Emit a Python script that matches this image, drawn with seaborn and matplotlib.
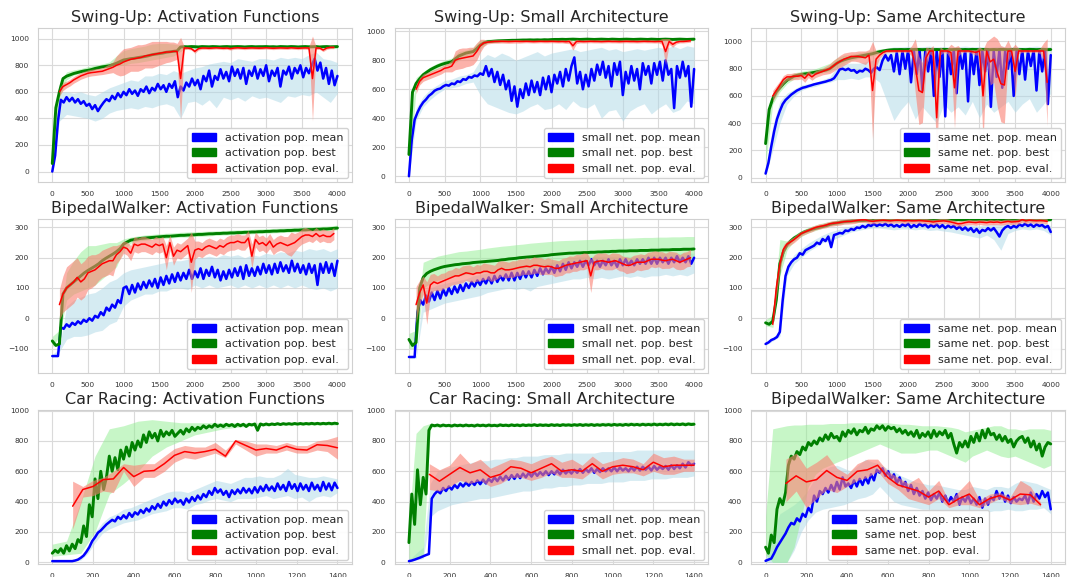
import numpy as np
import matplotlib
matplotlib.use("Agg")
import matplotlib.pyplot as plt
import seaborn as sns
from matplotlib.patches import Patch
from matplotlib.ticker import MultipleLocator

# ---------------- Swing-Up : Activation Functions ----------------
sa_mean = [0, 120, 380, 540, 520, 560, 530, 555, 520, 545,
           510, 530, 495, 510, 470, 500, 455, 490, 520, 545,
           530, 570, 545, 590, 560, 600, 575, 620, 585, 610,
           570, 620, 600, 640, 590, 630, 610, 660, 620, 650,
           600, 660, 630, 680, 560, 640, 610, 670, 640, 700,
           650, 690, 620, 720, 680, 760, 640, 720, 690, 770,
           700, 750, 680, 790, 720, 770, 700, 780, 660, 760,
           720, 790, 700, 770, 720, 800, 680, 760, 720, 780,
           640, 760, 730, 790, 700, 780, 740, 800, 710, 780,
           740, 800, 850, 760, 820, 700, 780, 660, 760, 650,
           720]
sa_mean_lo = [0, 380, 430, 420, 410, 400, 380, 400, 440, 460,
              470, 480, 470, 490, 480, 500, 510, 490, 400, 520,
              530, 500, 540, 480, 560, 540, 560, 530, 570, 550,
              560, 540, 520, 570, 560, 580, 570, 600, 560, 520,
              590]
sa_mean_hi = [40, 600, 600, 590, 600, 580, 570, 600, 630, 650,
              670, 690, 680, 720, 720, 740, 730, 760, 740, 760,
              780, 790, 810, 820, 830, 820, 850, 840, 830, 850,
              850, 840, 860, 850, 860, 850, 880, 900, 850, 840,
              820]
sa_best = [60, 480, 600, 700, 718, 728, 738, 745, 752, 758,
           762, 768, 776, 782, 788, 792, 796, 805, 815, 828,
           840, 845, 850, 853, 858, 862, 866, 872, 880, 884,
           888, 892, 898, 902, 905, 908, 938, 940, 939, 941,
           940, 938, 941, 940, 939, 941, 940, 938, 940, 941,
           939, 940, 941, 940, 938, 940, 941, 939, 940, 940,
           941, 939, 940, 938, 941, 940, 939, 941, 940, 938,
           940, 941, 939, 940, 941, 938, 940, 941, 939, 940,
           941]
sa_best_lo = [0, 560, 690, 725, 740, 750, 765, 775, 785, 795,
              800, 815, 820, 830, 840, 850, 860, 870, 905, 928,
              928, 929, 928, 927, 928, 929, 928, 927, 928, 929,
              928, 927, 928, 929, 928, 927, 928, 929, 928, 927,
              928]
sa_best_hi = [250, 660, 750, 765, 775, 790, 800, 810, 825, 870,
              910, 925, 935, 945, 960, 965, 965, 960, 952, 952,
              953, 952, 951, 952, 953, 952, 951, 952, 953, 952,
              951, 952, 953, 952, 951, 952, 953, 952, 951, 952,
              953]
sa_eval = [600, 640, 655, 670, 690, 705, 720, 730, 740, 745,
           748, 752, 755, 765, 775, 785, 800, 810, 825, 835,
           845, 850, 855, 860, 870, 875, 880, 885, 890, 895,
           900, 900, 905, 905, 700, 930, 930, 925, 905, 925,
           930, 930, 928, 930, 932, 930, 928, 930, 925, 930,
           932, 930, 928, 930, 931, 930, 929, 930, 932, 930,
           928, 930, 931, 930, 929, 932, 930, 928, 930, 931,
           930, 700, 930, 930, 915, 930, 935, 935]
sa_eval_sd = [30, 30, 25, 25, 25, 25, 25, 25, 25, 25,
              25, 25, 25, 30, 35, 40, 70, 90, 100, 95,
              90, 95, 100, 95, 90, 95, 100, 95, 90, 85,
              80, 75, 70, 60, 310, 12, 10, 10, 15, 10,
              10, 10, 10, 10, 10, 10, 10, 10, 10, 10,
              10, 10, 10, 10, 10, 10, 10, 10, 10, 10,
              10, 10, 10, 10, 10, 10, 10, 10, 10, 10,
              12, 320, 12, 10, 12, 10, 10, 10]

# ---------------- Swing-Up : Small Architecture ----------------
ss_mean = [0, 250, 390, 440, 480, 510, 530, 555, 570, 590,
           600, 605, 620, 630, 625, 640, 635, 655, 650, 670,
           665, 685, 680, 695, 690, 710, 700, 760, 690, 740,
           650, 720, 630, 700, 600, 660, 520, 620, 480, 600,
           540, 640, 560, 660, 580, 650, 560, 680, 600, 690,
           580, 700, 640, 720, 620, 740, 660, 760, 820, 640,
           720, 600, 700, 620, 740, 660, 770, 700, 790, 680,
           760, 620, 780, 700, 790, 560, 720, 640, 760, 660,
           740, 600, 780, 700, 760, 640, 780, 700, 790, 660,
           800, 700, 740, 470, 760, 680, 790, 690, 760, 480,
           740]
ss_mean_lo = [0, 380, 480, 530, 570, 600, 610, 620, 640, 650,
              560, 500, 480, 460, 440, 430, 450, 480, 500, 460,
              470, 500, 460, 520, 480, 470, 500, 400, 450, 460,
              380, 450, 480, 500, 430, 470, 500, 440, 460, 520,
              500]
ss_mean_hi = [20, 470, 550, 600, 630, 660, 670, 690, 700, 720,
              800, 840, 820, 850, 830, 800, 820, 840, 860, 830,
              850, 860, 870, 880, 860, 870, 880, 890, 870, 880,
              860, 870, 880, 870, 880, 890, 880, 900, 880, 900,
              890]
ss_best = [150, 580, 640, 672, 700, 718, 735, 748, 760, 770,
           778, 784, 790, 810, 830, 840, 850, 855, 860, 880,
           905, 920, 928, 930, 932, 934, 935, 936, 937, 938,
           938, 939, 940, 940, 941, 940, 941, 940, 942, 941,
           943, 944, 944, 945, 944, 945, 946, 945, 944, 945,
           946, 945, 944, 945, 946, 945, 944, 946, 945, 944,
           945, 946, 945, 944, 945, 946, 945, 944, 946, 945,
           944, 945, 946, 945, 944, 945, 946, 945, 944, 945,
           946]
ss_best_lo = [0, 600, 680, 715, 740, 760, 770, 800, 830, 845,
              880, 920, 925, 928, 930, 932, 932, 933, 933, 934,
              935, 935, 936, 935, 934, 935, 936, 935, 934, 935,
              936, 935, 934, 935, 936, 935, 934, 935, 936, 935,
              935]
ss_best_hi = [300, 680, 720, 755, 780, 800, 815, 860, 870, 890,
              940, 945, 948, 948, 948, 950, 950, 950, 952, 952,
              953, 954, 953, 954, 955, 954, 953, 954, 955, 954,
              953, 954, 955, 954, 953, 954, 955, 954, 953, 954,
              955]
ss_eval = [600, 655, 680, 690, 700, 710, 720, 730, 745, 750,
           760, 800, 810, 815, 820, 825, 830, 860, 900, 920,
           925, 928, 930, 930, 931, 930, 929, 930, 931, 930,
           930, 931, 930, 929, 930, 931, 930, 930, 931, 930,
           929, 930, 928, 930, 900, 930, 930, 929, 930, 931,
           930, 930, 929, 930, 931, 930, 930, 929, 930, 931,
           930, 930, 929, 930, 931, 930, 930, 929, 930, 930,
           860, 930, 910, 925, 930, 930, 932, 935]
ss_eval_sd = [30, 25, 25, 25, 25, 25, 25, 25, 25, 30,
              40, 65, 70, 70, 65, 65, 60, 60, 45, 25,
              12, 12, 12, 12, 12, 12, 12, 12, 12, 12,
              10, 10, 10, 10, 10, 10, 10, 10, 10, 10,
              10, 10, 12, 15, 30, 15, 10, 10, 10, 10,
              10, 10, 10, 10, 10, 10, 10, 10, 10, 10,
              10, 10, 10, 10, 10, 10, 10, 10, 10, 20,
              90, 20, 20, 12, 10, 10, 10, 10]

# ---------------- Swing-Up : Same Architecture ----------------
sm_mean = [30, 110, 230, 340, 430, 490, 540, 570, 590, 610,
           625, 640, 650, 660, 665, 672, 678, 685, 690, 695,
           700, 705, 712, 718, 730, 760, 795, 800, 790, 800,
           785, 790, 770, 785, 780, 800, 790, 770, 800, 810,
           790, 860, 900, 860, 900, 780, 920, 760, 930, 800,
           940, 700, 930, 760, 940, 640, 930, 780, 940, 600,
           930, 740, 940, 450, 930, 760, 940, 620, 930, 800,
           940, 560, 930, 760, 940, 680, 930, 780, 940, 520,
           930, 740, 940, 660, 930, 800, 940, 600, 930, 760,
           940, 720, 930, 820, 940, 640, 930, 780, 940, 540,
           900]
sm_mean_lo = [10, 200, 400, 540, 600, 640, 660, 670, 690, 700,
              720, 720, 730, 720, 740, 740, 700, 560, 420, 500,
              560, 430, 520, 460, 400, 540, 480, 520, 460, 560,
              440, 540, 480, 520, 560, 480, 540, 580, 480, 540,
              620]
sm_mean_hi = [50, 380, 560, 620, 650, 680, 690, 700, 720, 740,
              810, 840, 840, 840, 850, 860, 880, 950, 960, 960,
              965, 958, 962, 966, 960, 964, 958, 962, 966, 960,
              964, 958, 962, 966, 960, 964, 958, 962, 966, 960,
              962]
sm_best = [250, 500, 580, 630, 660, 690, 715, 730, 745, 752,
           758, 762, 765, 770, 775, 780, 785, 790, 800, 820,
           840, 855, 865, 873, 880, 885, 890, 895, 900, 905,
           910, 918, 925, 930, 935, 938, 940, 940, 941, 940,
           941, 940, 942, 941, 940, 941, 942, 940, 941, 940,
           942, 941, 940, 941, 942, 940, 941, 940, 942, 941,
           940, 941, 942, 940, 941, 940, 942, 941, 940, 941,
           942, 940, 941, 940, 942, 941, 940, 941, 942, 940,
           941]
sm_best_lo = [100, 540, 630, 690, 725, 740, 750, 760, 770, 780,
              810, 840, 860, 875, 885, 895, 910, 925, 930, 930,
              931, 930, 929, 930, 931, 930, 929, 930, 931, 930,
              929, 930, 931, 930, 929, 930, 931, 930, 929, 930,
              931]
sm_best_hi = [420, 620, 700, 745, 770, 780, 790, 800, 820, 840,
              880, 900, 905, 915, 925, 935, 945, 950, 952, 952,
              953, 952, 951, 952, 953, 952, 951, 952, 953, 952,
              951, 952, 953, 952, 951, 952, 953, 952, 951, 952,
              953]
sm_eval = [600, 640, 680, 720, 740, 740, 745, 745, 750, 730,
           760, 740, 760, 770, 780, 790, 800, 820, 840, 855,
           870, 880, 890, 890, 890, 885, 880, 900, 640, 870,
           900, 920, 930, 930, 930, 930, 930, 930, 930, 930,
           820, 640, 625, 880, 930, 930, 440, 930, 930, 930,
           920, 660, 930, 930, 930, 930, 925, 920, 930, 600,
           930, 850, 870, 770, 690, 680, 930, 930, 780, 930,
           930, 930, 930, 930, 930, 930, 930, 700]
sm_eval_sd = [40, 35, 30, 30, 25, 25, 25, 25, 25, 30,
              25, 25, 25, 25, 25, 30, 35, 40, 40, 45,
              45, 40, 35, 35, 40, 45, 50, 40, 360, 60,
              20, 15, 12, 10, 10, 10, 10, 10, 10, 40,
              200, 250, 220, 80, 20, 40, 330, 30, 10, 20,
              60, 300, 40, 10, 10, 10, 15, 20, 30, 340,
              70, 170, 170, 250, 280, 280, 80, 20, 200, 20,
              10, 10, 10, 10, 10, 20, 60, 320]

# ---------------- BipedalWalker : Activation Functions ----------------
ba_mean = [-125, -125, -125, -30, -35, -20, -28, -15, -22, -10,
           -18, -5, -12, 0, -8, 8, 2, 20, 10, 35,
           25, 45, 35, 60, 50, 100, 105, 80, 110, 85,
           115, 95, 120, 100, 125, 105, 130, 100, 135, 110,
           140, 115, 145, 120, 150, 125, 150, 130, 160, 130,
           155, 135, 165, 130, 160, 140, 170, 135, 160, 125,
           155, 130, 160, 135, 165, 140, 170, 130, 175, 140,
           165, 140, 170, 145, 180, 150, 175, 145, 180, 150,
           185, 155, 175, 150, 190, 155, 180, 150, 175, 145,
           180, 150, 175, 110, 180, 150, 185, 150, 180, 140,
           190]
ba_mean_lo = [-130, -110, -70, -60, -60, -55, -45, -40, -20, -10,
              40, 60, 70, 80, 80, 90, 90, 100, 100, 95,
              110, 100, 110, 100, 105, 110, 100, 110, 100, 110,
              100, 110, 100, 110, 100, 110, 100, 95, 100, 90,
              100]
ba_mean_hi = [-120, -100, 40, 60, 70, 80, 85, 100, 120, 130,
              150, 160, 165, 170, 175, 180, 185, 190, 190, 195,
              200, 200, 205, 200, 210, 205, 210, 200, 210, 205,
              215, 210, 220, 215, 225, 220, 230, 225, 230, 220,
              230]
ba_best = [-75, -90, -85, 80, 100, 110, 120, 130, 140, 150,
           158, 165, 172, 180, 190, 198, 205, 212, 220, 230,
           245, 252, 258, 260, 262, 264, 265, 266, 267, 268,
           269, 270, 271, 271, 272, 273, 274, 274, 275, 275,
           276, 277, 277, 278, 279, 279, 280, 280, 281, 281,
           282, 282, 283, 283, 284, 284, 285, 285, 286, 286,
           287, 287, 288, 288, 289, 289, 290, 290, 291, 291,
           292, 292, 293, 293, 294, 294, 295, 295, 296, 297,
           298]
ba_best_lo = [-95, -60, 60, 80, 90, 100, 110, 130, 150, 170,
              225, 248, 255, 258, 260, 262, 264, 266, 268, 268,
              270, 271, 272, 274, 275, 276, 277, 278, 279, 280,
              281, 282, 283, 284, 285, 286, 287, 288, 289, 290,
              292]
ba_best_hi = [-60, -40, 150, 190, 220, 240, 240, 245, 250, 250,
              262, 268, 272, 275, 277, 279, 281, 282, 284, 285,
              286, 287, 288, 289, 290, 291, 292, 293, 294, 295,
              296, 297, 298, 299, 300, 301, 302, 303, 304, 305,
              308]
ba_eval = [45, 80, 100, 110, 120, 135, 120, 130, 150, 155,
           160, 170, 180, 185, 190, 190, 210, 220, 235, 230,
           215, 245, 240, 245, 245, 240, 235, 245, 240, 245,
           200, 250, 205, 225, 220, 230, 240, 185, 225, 230,
           225, 235, 240, 235, 230, 240, 235, 245, 250, 250,
           255, 250, 250, 265, 205, 260, 245, 250, 240, 255,
           235, 245, 250, 245, 240, 245, 250, 260, 270, 275,
           275, 270, 280, 270, 275, 270, 270, 280]
ba_eval_sd = [50, 60, 70, 70, 70, 65, 60, 60, 55, 55,
              50, 45, 45, 45, 45, 50, 30, 25, 20, 22,
              25, 25, 25, 25, 25, 25, 25, 25, 25, 25,
              40, 25, 30, 25, 25, 25, 25, 100, 30, 25,
              25, 25, 25, 25, 25, 25, 25, 25, 25, 25,
              25, 25, 25, 25, 40, 25, 25, 25, 25, 25,
              25, 25, 25, 25, 30, 40, 30, 25, 25, 25,
              20, 20, 20, 20, 20, 20, 20, 20]

# ---------------- BipedalWalker : Small Architecture ----------------
bs_mean = [-128, -128, -128, 20, 60, 45, 75, 55, 85, 60,
           90, 65, 95, 75, 100, 80, 105, 85, 110, 90,
           115, 100, 120, 105, 125, 110, 130, 115, 135, 115,
           140, 120, 140, 125, 145, 125, 150, 125, 150, 130,
           155, 135, 155, 135, 160, 140, 165, 145, 165, 150,
           170, 150, 175, 155, 180, 160, 185, 165, 185, 170,
           190, 170, 190, 175, 195, 175, 190, 170, 190, 175,
           195, 175, 190, 170, 195, 175, 195, 175, 190, 175,
           195, 180, 195, 180, 200, 180, 200, 180, 200, 185,
           200, 180, 200, 185, 205, 185, 200, 185, 205, 180,
           200]
bs_mean_lo = [-132, -132, 20, 30, 40, 50, 55, 60, 65, 70,
              75, 85, 90, 95, 100, 95, 100, 90, 105, 110,
              115, 120, 125, 130, 130, 135, 130, 135, 130, 135,
              140, 135, 140, 135, 140, 140, 145, 140, 145, 140,
              150]
bs_mean_hi = [-124, -124, 90, 100, 110, 115, 120, 125, 130, 140,
              145, 150, 155, 160, 165, 165, 170, 170, 175, 180,
              185, 190, 195, 200, 205, 205, 205, 205, 205, 205,
              205, 205, 205, 210, 210, 210, 215, 215, 215, 215,
              215]
bs_best = [-70, -90, -80, 100, 135, 148, 155, 160, 164, 168,
           171, 173, 175, 177, 178, 180, 181, 182, 184, 185,
           186, 187, 188, 189, 190, 191, 193, 194, 196, 197,
           198, 200, 201, 202, 203, 204, 205, 206, 207, 208,
           210, 211, 212, 213, 214, 215, 215, 216, 216, 217,
           217, 218, 218, 219, 219, 220, 220, 221, 221, 222,
           222, 222, 223, 223, 223, 224, 224, 224, 225, 225,
           225, 226, 226, 226, 227, 227, 227, 228, 228, 228,
           229]
bs_best_lo = [-100, -100, 100, 115, 125, 132, 138, 142, 145, 148,
              150, 152, 155, 158, 160, 163, 166, 168, 170, 172,
              175, 177, 178, 180, 181, 182, 183, 184, 185, 186,
              186, 187, 188, 189, 189, 190, 190, 191, 191, 192,
              192]
bs_best_hi = [-50, -40, 185, 195, 205, 210, 215, 220, 222, 225,
              228, 232, 235, 238, 240, 243, 245, 248, 250, 252,
              254, 256, 257, 258, 259, 260, 261, 262, 263, 264,
              264, 265, 266, 267, 267, 268, 268, 269, 269, 270,
              270]
bs_eval = [45, 85, 110, 50, 110, 120, 115, 120, 125, 130,
           135, 140, 140, 145, 150, 148, 145, 150, 150, 155,
           155, 150, 150, 160, 165, 160, 160, 162, 165, 168,
           170, 172, 170, 175, 175, 172, 170, 172, 170, 165,
           165, 170, 175, 178, 180, 183, 185, 188, 190, 140,
           185, 188, 190, 188, 185, 188, 190, 185, 180, 175,
           175, 180, 185, 185, 185, 190, 195, 195, 195, 192,
           190, 193, 195, 190, 185, 190, 195, 200]
bs_eval_sd = [60, 40, 30, 70, 35, 28, 25, 28, 25, 28,
              25, 28, 25, 28, 25, 28, 25, 28, 25, 28,
              25, 28, 25, 28, 25, 28, 25, 28, 25, 28,
              25, 28, 25, 28, 25, 28, 25, 28, 25, 28,
              25, 28, 25, 28, 25, 28, 25, 28, 25, 55,
              25, 28, 25, 28, 25, 28, 25, 28, 25, 28,
              25, 28, 25, 28, 25, 28, 25, 28, 25, 28,
              25, 28, 25, 28, 25, 28, 25, 28]

# ---------------- BipedalWalker : Same Architecture (4000 gen) ----------------
bm_mean = [-85, -80, -72, -68, -62, -45, 60, 140, 170, 185,
           195, 200, 215, 210, 225, 230, 235, 240, 250, 245,
           262, 255, 270, 235, 275, 278, 282, 280, 290, 288,
           295, 292, 300, 298, 305, 300, 308, 305, 312, 305,
           310, 306, 312, 305, 310, 303, 308, 302, 310, 305,
           312, 300, 308, 302, 312, 305, 310, 300, 308, 302,
           310, 300, 308, 298, 306, 300, 305, 295, 303, 292,
           300, 290, 298, 285, 295, 282, 292, 288, 298, 290,
           298, 285, 270, 290, 300, 305, 298, 305, 300, 310,
           305, 312, 305, 310, 302, 310, 305, 308, 300, 305,
           285]
bm_mean_lo = [-90, -75, -60, 140, 180, 200, 220, 235, 250, 255,
              265, 275, 285, 290, 295, 298, 298, 295, 292, 295,
              295, 292, 295, 290, 292, 288, 285, 280, 275, 270,
              265, 275, 260, 225, 280, 290, 295, 292, 295, 290,
              275]
bm_mean_hi = [-80, -65, -40, 175, 210, 230, 248, 262, 275, 285,
              292, 300, 305, 312, 316, 320, 320, 320, 318, 318,
              320, 318, 320, 318, 318, 316, 315, 312, 310, 308,
              305, 310, 312, 310, 315, 318, 320, 320, 318, 316,
              305]
bm_best = [-15, -20, -10, 60, 180, 220, 242, 255, 265, 272,
           280, 286, 290, 294, 297, 300, 303, 306, 310, 313,
           315, 317, 319, 320, 321, 322, 322, 323, 323, 324,
           324, 324, 325, 325, 325, 325, 326, 325, 326, 325,
           326, 325, 326, 325, 326, 325, 326, 325, 326, 325,
           326, 325, 326, 325, 326, 325, 326, 325, 326, 325,
           326, 325, 326, 325, 326, 325, 326, 325, 326, 325,
           326, 325, 326, 325, 326, 325, 326, 325, 326, 325,
           326]
bm_best_lo = [-25, -30, 140, 225, 255, 270, 282, 290, 298, 305,
              308, 312, 315, 317, 318, 319, 320, 320, 320, 320,
              321, 320, 321, 320, 321, 320, 321, 320, 321, 320,
              321, 320, 321, 320, 321, 320, 321, 320, 321, 320,
              321]
bm_best_hi = [-5, 10, 260, 255, 275, 290, 300, 308, 315, 320,
              324, 328, 330, 332, 334, 335, 335, 335, 335, 335,
              336, 335, 336, 335, 336, 335, 336, 335, 336, 335,
              336, 335, 336, 335, 336, 335, 336, 335, 336, 335,
              336]
bm_eval = [-20, 100, 180, 228, 245, 252, 260, 270, 280, 285,
           290, 295, 300, 303, 305, 308, 312, 314, 315, 317,
           319, 320, 320, 322, 324, 325, 325, 322, 320, 322,
           323, 324, 323, 322, 323, 324, 323, 322, 323, 322,
           322, 323, 322, 321, 320, 318, 320, 321, 322, 320,
           318, 315, 312, 313, 316, 318, 317, 316, 318, 317,
           316, 318, 317, 318, 316, 318, 320, 318, 319, 320,
           326, 322, 324, 323, 322, 323, 322, 320]
bm_eval_sd = [12, 30, 25, 15, 10, 10, 10, 10, 8, 8,
              8, 9, 8, 9, 8, 9, 8, 9, 8, 9,
              8, 9, 8, 9, 8, 9, 8, 9, 8, 9,
              8, 9, 8, 9, 8, 9, 8, 9, 8, 9,
              8, 9, 8, 9, 8, 9, 8, 9, 8, 9,
              8, 9, 8, 9, 8, 9, 8, 9, 8, 9,
              8, 9, 8, 9, 8, 9, 8, 9, 8, 9,
              8, 9, 8, 9, 8, 9, 8, 9]

# ---------------- Car Racing : Activation Functions ----------------
ca_mean = [8, 8, 8, 8, 8, 8, 8, 8, 12, 18,
           30, 45, 70, 100, 140, 165, 195, 210, 230, 250,
           265, 280, 270, 300, 285, 310, 290, 325, 300, 330,
           315, 345, 325, 355, 335, 370, 350, 385, 360, 400,
           375, 410, 385, 420, 395, 410, 380, 420, 395, 430,
           405, 440, 415, 450, 430, 470, 445, 490, 460, 480,
           445, 470, 430, 475, 450, 480, 455, 490, 460, 485,
           455, 495, 460, 500, 470, 510, 475, 500, 470, 520,
           480, 510, 470, 530, 485, 515, 470, 520, 480, 510,
           470, 525, 480, 510, 470, 530, 480, 520, 475, 525,
           490]
ca_mean_lo = [5, 5, 5, 5, 15, 60, 130, 190, 220, 240,
              260, 270, 280, 300, 320, 330, 340, 360, 360, 350,
              380, 390, 410, 420, 410, 400, 420, 420, 420, 430,
              440, 420, 430, 440, 420, 430, 400, 430, 440, 430,
              460]
ca_mean_hi = [12, 12, 12, 14, 40, 110, 200, 260, 300, 320,
              350, 360, 380, 400, 420, 440, 460, 470, 470, 460,
              480, 500, 520, 540, 530, 520, 540, 560, 560, 570,
              560, 560, 580, 620, 580, 570, 560, 560, 570, 560,
              550]
ca_best = [60, 80, 65, 90, 60, 110, 75, 120, 90, 150,
           130, 240, 170, 380, 300, 550, 420, 600, 480, 560,
           700, 600, 690, 610, 740, 680, 760, 700, 790, 740,
           800, 760, 840, 790, 860, 820, 850, 800, 870, 830,
           860, 840, 870, 830, 850, 870, 845, 880, 860, 890,
           870, 890, 880, 900, 885, 900, 890, 910, 895, 905,
           895, 910, 900, 908, 895, 910, 900, 910, 895, 910,
           905, 912, 870, 912, 905, 912, 906, 912, 908, 914,
           908, 914, 910, 914, 910, 915, 911, 915, 911, 915,
           912, 916, 912, 916, 912, 916, 913, 917, 913, 917,
           914]
ca_best_lo = [40, 50, 60, 200, 450, 520, 600, 700, 760, 800,
              840, 860, 880, 890, 900, 900, 905, 905, 905, 905,
              905]
ca_best_hi = [120, 140, 400, 700, 880, 900, 930, 940, 930, 920,
              920, 920, 920, 920, 920, 920, 922, 922, 924, 924,
              924]
ca_eval = [370, 480, 500, 545, 550, 625, 565, 600, 605, 650,
           705, 730, 720, 730, 745, 700, 800, 770, 740, 750,
           740, 765, 745, 740, 775, 770, 755]
ca_eval_lo = [220, 430, 440, 470, 460, 600, 500, 560, 560, 600,
              660, 690, 680, 700, 720, 690, 780, 740, 700, 720,
              720, 740, 720, 720, 740, 730, 680]
ca_eval_hi = [535, 500, 540, 560, 600, 650, 640, 650, 650, 700,
              750, 770, 760, 760, 790, 740, 810, 800, 780, 780,
              770, 790, 770, 770, 800, 810, 830]

# ---------------- Car Racing : Small Architecture ----------------
cs_mean = [8, 12, 18, 25, 32, 40, 48, 55, 420, 450,
           470, 455, 490, 470, 500, 480, 510, 490, 520, 500,
           525, 505, 530, 510, 540, 515, 545, 520, 550, 530,
           560, 535, 565, 540, 570, 545, 575, 550, 580, 555,
           585, 560, 590, 565, 595, 570, 595, 575, 600, 575,
           600, 580, 605, 580, 610, 585, 605, 585, 610, 590,
           615, 590, 615, 595, 620, 590, 615, 595, 620, 600,
           620, 600, 625, 600, 625, 605, 620, 600, 625, 605,
           630, 605, 630, 610, 630, 605, 635, 610, 630, 615,
           635, 610, 640, 615, 640, 620, 650, 625, 660, 640,
           650]
cs_mean_lo = [5, 15, 25, 300, 340, 360, 380, 390, 400, 410,
              420, 420, 430, 440, 450, 460, 470, 470, 480, 490,
              490, 500, 500, 510, 510, 520, 520, 520, 530, 530,
              530, 540, 540, 540, 550, 550, 550, 560, 560, 560,
              570]
cs_mean_hi = [15, 60, 100, 520, 600, 620, 630, 640, 650, 660,
              670, 670, 680, 680, 690, 690, 700, 700, 700, 710,
              710, 710, 720, 720, 720, 720, 720, 730, 730, 730,
              730, 730, 740, 740, 740, 740, 740, 740, 740, 740,
              740]
cs_best = [130, 450, 250, 610, 380, 560, 450, 870, 905, 900,
           905, 898, 905, 900, 903, 898, 905, 900, 904, 899,
           905, 900, 903, 898, 905, 900, 904, 899, 905, 900,
           903, 899, 906, 901, 904, 900, 906, 901, 905, 900,
           906, 901, 905, 902, 907, 901, 906, 902, 905, 901,
           907, 902, 906, 901, 907, 903, 906, 902, 907, 903,
           908, 902, 907, 903, 908, 902, 907, 903, 908, 904,
           908, 903, 909, 904, 908, 903, 909, 904, 910, 905,
           909, 904, 910, 905, 909, 905, 911, 905, 910, 906,
           911, 906, 912, 906, 911, 907, 912, 906, 912, 908,
           910]
cs_best_lo = [20, 30, 50, 890, 892, 893, 892, 894, 893, 894,
              895, 894, 895, 896, 895, 896, 897, 896, 897, 898,
              897, 898, 899, 898, 899, 900, 899, 900, 901, 900,
              901, 902, 901, 902, 903, 902, 903, 904, 903, 904,
              905]
cs_best_hi = [250, 850, 900, 915, 915, 916, 915, 917, 916, 917,
              918, 917, 918, 919, 918, 919, 920, 919, 920, 921,
              920, 921, 922, 921, 922, 923, 922, 923, 924, 923,
              924, 925, 924, 925, 926, 925, 926, 927, 926, 927,
              928]
cs_eval = [580, 535, 580, 625, 590, 610, 560, 580, 630, 620,
           590, 620, 650, 600, 610, 600, 650, 600, 630, 640,
           630, 610, 660, 630, 640, 640, 640]
cs_eval_lo = [480, 470, 500, 540, 520, 540, 500, 520, 560, 560,
              540, 560, 590, 560, 560, 550, 600, 550, 580, 590,
              590, 570, 600, 580, 580, 600, 600]
cs_eval_hi = [650, 610, 640, 720, 650, 680, 620, 650, 680, 670,
              650, 680, 700, 660, 680, 640, 700, 650, 670, 690,
              680, 650, 720, 690, 700, 680, 680]

# ---------------- BipedalWalker : Same Architecture (1400 gen) ----------------
bw_mean = [10, 18, 25, 60, 100, 130, 160, 190, 230, 260,
           250, 290, 270, 320, 300, 360, 330, 440, 400, 470,
           450, 490, 460, 510, 470, 530, 480, 560, 500, 520,
           490, 540, 500, 550, 510, 560, 520, 580, 540, 610,
           590, 620, 570, 600, 550, 580, 520, 560, 500, 530,
           470, 510, 450, 490, 440, 470, 420, 460, 410, 450,
           420, 460, 400, 440, 390, 430, 400, 450, 380, 430,
           400, 440, 390, 420, 380, 430, 360, 420, 380, 430,
           410, 470, 420, 460, 400, 440, 390, 430, 400, 420,
           410, 440, 390, 460, 400, 450, 420, 470, 430, 460,
           350]
bw_mean_lo = [0, 0, 0, 0, 80, 200, 280, 330, 350, 360,
              370, 380, 400, 420, 430, 450, 500, 450, 400, 380,
              370, 360, 350, 350, 340, 340, 340, 330, 340, 330,
              320, 330, 340, 340, 350, 340, 340, 350, 350, 360,
              320]
bw_mean_hi = [30, 200, 320, 350, 380, 420, 480, 560, 600, 630,
              640, 620, 600, 640, 680, 660, 650, 620, 600, 570,
              550, 530, 520, 510, 510, 500, 490, 480, 480, 500,
              490, 480, 500, 500, 490, 520, 540, 530, 520, 500,
              480]
bw_best = [100, 60, 180, 130, 350, 420, 380, 460, 640, 700,
           680, 730, 710, 760, 740, 790, 770, 800, 780, 820,
           800, 840, 810, 850, 820, 830, 800, 860, 830, 870,
           850, 880, 840, 870, 860, 890, 850, 880, 870, 900,
           880, 900, 870, 895, 880, 890, 860, 880, 850, 870,
           840, 860, 830, 870, 820, 850, 830, 860, 820, 870,
           830, 860, 840, 870, 820, 850, 780, 720, 790, 760,
           800, 760, 830, 790, 850, 800, 870, 820, 880, 840,
           850, 810, 840, 800, 830, 790, 810, 760, 800, 820,
           830, 790, 820, 760, 800, 740, 780, 700, 760, 790,
           780]
bw_best_lo = [50, 0, 0, 0, 100, 300, 500, 580, 620, 640,
              660, 680, 700, 720, 740, 760, 780, 760, 740, 720,
              720, 720, 730, 740, 740, 720, 700, 680, 660, 700,
              720, 740, 720, 700, 690, 700, 680, 660, 640, 620,
              640]
bw_best_hi = [300, 880, 890, 900, 905, 905, 910, 910, 910, 915,
              915, 915, 920, 920, 920, 920, 920, 920, 915, 910,
              910, 905, 900, 900, 900, 895, 890, 880, 860, 870,
              880, 890, 900, 900, 880, 880, 870, 880, 880, 880,
              870]
bw_eval = [520, 570, 530, 545, 605, 560, 540, 600, 610, 640,
           560, 510, 490, 470, 430, 470, 380, 420, 450, 380,
           420, 440, 410, 450, 445, 380]
bw_eval_lo = [400, 470, 360, 420, 480, 460, 500, 540, 560, 600,
              520, 480, 420, 400, 380, 420, 360, 380, 380, 360,
              390, 420, 390, 380, 390, 370]
bw_eval_hi = [680, 720, 620, 660, 710, 620, 580, 650, 680, 680,
              600, 560, 520, 560, 470, 540, 400, 470, 540, 410,
              450, 460, 430, 540, 500, 395]

titles = ["Swing-Up: Activation Functions", "Swing-Up: Small Architecture",
          "Swing-Up: Same Architecture",
          "BipedalWalker: Activation Functions", "BipedalWalker: Small Architecture",
          "BipedalWalker: Same Architecture",
          "Car Racing: Activation Functions", "Car Racing: Small Architecture",
          "BipedalWalker: Same Architecture"]
prefixes = ["activation", "small net.", "same net.",
            "activation", "small net.", "same net.",
            "activation", "small net.", "same net."]
series_names = ["pop. mean", "pop. best", "pop. eval."]


def sd_band(values, sd):
    v = np.asarray(values, float)
    s = np.asarray(sd, float)
    return v - s, v + s


panels = []
for (mean, mlo, mhi, best, blo, bhi, ev, esd) in [
        (sa_mean, sa_mean_lo, sa_mean_hi, sa_best, sa_best_lo, sa_best_hi, sa_eval, sa_eval_sd),
        (ss_mean, ss_mean_lo, ss_mean_hi, ss_best, ss_best_lo, ss_best_hi, ss_eval, ss_eval_sd),
        (sm_mean, sm_mean_lo, sm_mean_hi, sm_best, sm_best_lo, sm_best_hi, sm_eval, sm_eval_sd),
        (ba_mean, ba_mean_lo, ba_mean_hi, ba_best, ba_best_lo, ba_best_hi, ba_eval, ba_eval_sd),
        (bs_mean, bs_mean_lo, bs_mean_hi, bs_best, bs_best_lo, bs_best_hi, bs_eval, bs_eval_sd),
        (bm_mean, bm_mean_lo, bm_mean_hi, bm_best, bm_best_lo, bm_best_hi, bm_eval, bm_eval_sd)]:
    elo, ehi = sd_band(ev, esd)
    panels.append(dict(n=4000, mean=mean, mlo=mlo, mhi=mhi, best=best, blo=blo, bhi=bhi,
                       ev=ev, elo=elo, ehi=ehi, e0=100, e1=3950))
panels.append(dict(n=1400, mean=ca_mean, mlo=ca_mean_lo, mhi=ca_mean_hi, best=ca_best,
                   blo=ca_best_lo, bhi=ca_best_hi, ev=ca_eval, elo=ca_eval_lo, ehi=ca_eval_hi,
                   e0=100, e1=1400))
panels.append(dict(n=1400, mean=cs_mean, mlo=cs_mean_lo, mhi=cs_mean_hi, best=cs_best,
                   blo=cs_best_lo, bhi=cs_best_hi, ev=cs_eval, elo=cs_eval_lo, ehi=cs_eval_hi,
                   e0=100, e1=1400))
panels.append(dict(n=1400, mean=bw_mean, mlo=bw_mean_lo, mhi=bw_mean_hi, best=bw_best,
                   blo=bw_best_lo, bhi=bw_best_hi, ev=bw_eval, elo=bw_eval_lo, ehi=bw_eval_hi,
                   e0=100, e1=1350))

ylims = [(-79, 1081), (-40, 1023), (-32, 1099),
         (-181, 328), (-181, 328), (-181, 328),
         (-11, 1004), (-11, 1004), (-11, 1004)]
ysteps = [200, 200, 200, 100, 100, 100, 200, 200, 200]

sns.set_style("whitegrid", {"axes.edgecolor": "#d0d0d0", "grid.color": "#dadada"})
plt.rcParams["font.family"] = ["DejaVu Sans"]

fig, axes = plt.subplots(3, 3, figsize=(10.68, 5.77), dpi=100)
fig.subplots_adjust(left=0.0356, right=0.9972, top=0.9515, bottom=0.0225,
                    wspace=0.137, hspace=0.24)

for i, (ax, p) in enumerate(zip(axes.flat, panels)):
    n = p["n"]
    xm = np.linspace(0, n, len(p["mean"]))
    xmb = np.linspace(0, n, len(p["mlo"]))
    xb = np.linspace(0, n, len(p["best"]))
    xbb = np.linspace(0, n, len(p["blo"]))
    xe = np.linspace(p["e0"], p["e1"], len(p["ev"]))

    ax.fill_between(xmb, p["mlo"], p["mhi"], color="lightblue", alpha=0.5, lw=0, zorder=1)
    ax.fill_between(xbb, p["blo"], p["bhi"], color="lightgreen", alpha=0.5, lw=0, zorder=2)
    sns.lineplot(x=xm, y=p["mean"], ax=ax, color="blue", lw=1.8, zorder=3)
    sns.lineplot(x=xb, y=p["best"], ax=ax, color="green", lw=2.1, zorder=4)
    ax.fill_between(xe, p["elo"], p["ehi"], color="salmon", alpha=0.6, lw=0, zorder=5)
    sns.lineplot(x=xe, y=p["ev"], ax=ax, color="red", lw=1.1, zorder=6)

    ax.set_xlim(-0.05 * n, 1.05 * n)
    ax.set_ylim(*ylims[i])
    ax.xaxis.set_major_locator(MultipleLocator(500 if n == 4000 else 200))
    ax.yaxis.set_major_locator(MultipleLocator(ysteps[i]))
    ax.tick_params(labelsize=5.4, colors="#333333", pad=3)
    ax.set_title(titles[i], fontsize=11.5, pad=4, color="#262626")
    ax.set_xlabel("")
    ax.set_ylabel("")

    handles = [Patch(facecolor=c, edgecolor=c) for c in ("blue", "green", "red")]
    labels = [f"{prefixes[i]} {s}" for s in series_names]
    leg = ax.legend(handles, labels, loc="lower center" if i == 8 else "lower right",
                    fontsize=8, handlelength=2.2, handleheight=0.72, handletextpad=0.8,
                    labelspacing=0.5, borderpad=0.4, borderaxespad=0.35,
                    frameon=True, framealpha=0.95, fancybox=True)
    leg.get_frame().set_edgecolor("#d0d0d0")
    leg.set_zorder(10)

fig.savefig("out.png", dpi=100)
